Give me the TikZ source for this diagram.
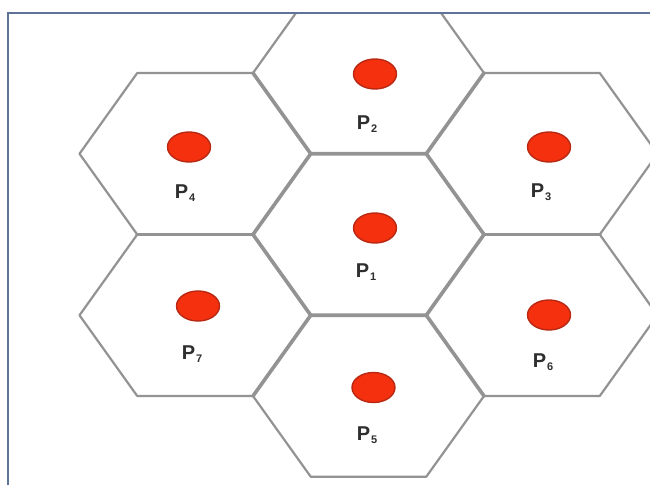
\documentclass[tikz,border=0pt]{standalone}
\usepackage{fontspec}
\setmainfont{Liberation Sans}
\usetikzlibrary{shapes.geometric}
\definecolor{hexgray}{HTML}{939393}
\definecolor{dotred}{HTML}{F5300F}
\definecolor{dotrim}{HTML}{B82812}
\definecolor{framecol}{HTML}{5F7298}
\definecolor{labelcol}{HTML}{2E2E2E}
\newcommand{\plab}[1]{P\kern0.8pt{\fontsize{11}{11}\selectfont\raisebox{-3.5pt}{#1}}}
\tikzset{
  hexline/.style={draw=hexgray, line width=2.2pt, line join=round},
  sharedline/.style={draw=hexgray, line width=3.6pt, line join=round, line cap=round},
  reddot/.style={ellipse, fill=dotred, draw=dotrim, line width=1.4pt, minimum width=43pt, minimum height=30pt, inner sep=0pt},
  plabel/.style={font=\fontsize{20}{20}\selectfont\bfseries, text=labelcol, inner sep=0pt},
  framel/.style={draw=framecol, line width=2pt}
}
\begin{document}
\begin{tikzpicture}[x=1pt, y=-1pt]
\useasboundingbox (0,0) rectangle (650,485);
\fill[white] (0,0) rectangle (650,485);
\begin{scope}
\clip (8,13) rectangle (650,485);
% hexagon centres: R=115.5, h=80.75
\foreach \cx/\cy in {368.5/73, 195/153.75, 542/153.75, 368.5/234.5, 195/315.25, 542/315.25, 368.5/396}{
  \draw[hexline] (\cx-115.5,\cy) -- (\cx-57.75,\cy-80.75) -- (\cx+57.75,\cy-80.75) -- (\cx+115.5,\cy)
     -- (\cx+57.75,\cy+80.75) -- (\cx-57.75,\cy+80.75) -- cycle;
}
% shared edges (thicker)
\draw[sharedline] (253,234.5) -- (310.75,153.75) -- (426.25,153.75) -- (484,234.5)
   -- (426.25,315.25) -- (310.75,315.25) -- cycle;
\draw[sharedline] (310.75,153.75) -- (253,73);
\draw[sharedline] (426.25,153.75) -- (484,73);
\draw[sharedline] (484,234.5) -- (599.75,234.5);
\draw[sharedline] (426.25,315.25) -- (484,396);
\draw[sharedline] (310.75,315.25) -- (253,396);
\draw[sharedline] (253,234.5) -- (137.25,234.5);
\end{scope}
% frame
\draw[framel] (8,485) -- (8,13) -- (650,13);
% dots
\node[reddot] (d1) at (375,228) {};
\node[reddot] (d2) at (375,74) {};
\node[reddot] (d3) at (549,147) {};
\node[reddot] (d4) at (189,147) {};
\node[reddot] (d5) at (373.5,387.5) {};
\node[reddot] (d6) at (549,315) {};
\node[reddot] (d7) at (198,306) {};
% labels
\node[plabel] (l1) at (366,272) {\plab{1}};
\node[plabel] (l2) at (367,124) {\plab{2}};
\node[plabel] (l3) at (541,192) {\plab{3}};
\node[plabel] (l4) at (185,193) {\plab{4}};
\node[plabel] (l5) at (367,435) {\plab{5}};
\node[plabel] (l6) at (543,362) {\plab{6}};
\node[plabel] (l7) at (192,354) {\plab{7}};
\end{tikzpicture}
\end{document}
